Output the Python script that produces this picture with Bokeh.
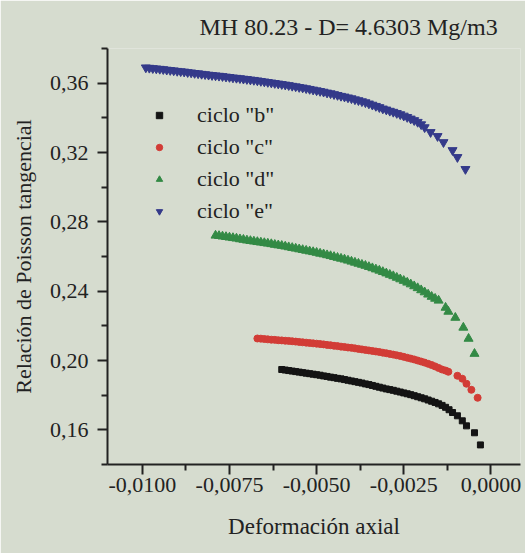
from bokeh.plotting import figure
from bokeh.models import (Range1d, FixedTicker, CustomJSTickFormatter, Legend,
                          LegendItem)
from bokeh.embed import file_html
from bokeh.resources import INLINE

TITLE = "MH 80.23 - D= 4.6303 Mg/m3"
X_LABEL = "Deformación axial"
Y_LABEL = "Relación de Poisson tangencial"
X_TICKS = [-0.0100, -0.0075, -0.0050, -0.0025, 0.0000]
X_MINOR = [-0.00875, -0.00625, -0.00375, -0.00125]
Y_TICKS = [0.16, 0.20, 0.24, 0.28, 0.32, 0.36]
Y_MINOR = [0.14, 0.18, 0.22, 0.26, 0.30, 0.34, 0.38]
SERIES_NAMES = ['ciclo "b"', 'ciclo "c"', 'ciclo "d"', 'ciclo "e"']

# ciclo "b" (black squares)
b_x = [-0.0060, -0.0059, -0.0058, -0.0057, -0.0056, -0.0055, -0.0054, -0.0053,
       -0.0052, -0.0051, -0.0050, -0.0049, -0.0048, -0.0047, -0.0046, -0.0045,
       -0.0044, -0.0043, -0.0042, -0.0041, -0.0040, -0.0039, -0.0038, -0.0037,
       -0.0036, -0.0035, -0.0034, -0.0033, -0.0032, -0.0031, -0.0030, -0.0029,
       -0.0028, -0.0027, -0.0026, -0.0025, -0.0024, -0.0023, -0.0022, -0.0021,
       -0.0020, -0.0019, -0.0018, -0.0017, -0.0016, -0.0015, -0.0014, -0.0013,
       -0.0012, -0.0011, -0.00096, -0.00082, -0.00070, -0.00047, -0.00030]
b_y = [0.1948, 0.1945, 0.1942, 0.1939, 0.1936, 0.1933, 0.1930, 0.1927,
       0.1924, 0.1921, 0.1918, 0.1915, 0.1911, 0.1908, 0.1904, 0.1901,
       0.1897, 0.1894, 0.1890, 0.1886, 0.1882, 0.1878, 0.1874, 0.1870,
       0.1865, 0.1861, 0.1856, 0.1851, 0.1846, 0.1841, 0.1836, 0.1832,
       0.1828, 0.1823, 0.1818, 0.1813, 0.1808, 0.1803, 0.1797, 0.1791,
       0.1785, 0.1779, 0.1772, 0.1765, 0.1758, 0.1750, 0.1741, 0.1730,
       0.1716, 0.1700, 0.1681, 0.1652, 0.1623, 0.1583, 0.1513]

# ciclo "c" (red circles)
c_x = [-0.0067, -0.0066, -0.0065, -0.0064, -0.0063, -0.0062, -0.0061, -0.0060,
       -0.0059, -0.0058, -0.0057, -0.0056, -0.0055, -0.0054, -0.0053, -0.0052,
       -0.0051, -0.0050, -0.0049, -0.0048, -0.0047, -0.0046, -0.0045, -0.0044,
       -0.0043, -0.0042, -0.0041, -0.0040, -0.0039, -0.0038, -0.0037, -0.0036,
       -0.0035, -0.0034, -0.0033, -0.0032, -0.0031, -0.0030, -0.0029, -0.0028,
       -0.0027, -0.0026, -0.0025, -0.0024, -0.0023, -0.0022, -0.0021, -0.0020,
       -0.0019, -0.0018, -0.0017, -0.0016, -0.0015, -0.0014, -0.0013,
       -0.00122, -0.00096, -0.00082, -0.00070, -0.00056, -0.00038]
c_y = [0.2127, 0.2126, 0.2124, 0.2122, 0.2120, 0.2119, 0.2117, 0.2116,
       0.2114, 0.2113, 0.2111, 0.2109, 0.2107, 0.2105, 0.2103, 0.2101,
       0.2099, 0.2097, 0.2095, 0.2093, 0.2090, 0.2088, 0.2085, 0.2083,
       0.2080, 0.2078, 0.2075, 0.2073, 0.2070, 0.2067, 0.2064, 0.2061,
       0.2058, 0.2055, 0.2052, 0.2049, 0.2045, 0.2042, 0.2038, 0.2034,
       0.2030, 0.2026, 0.2021, 0.2016, 0.2011, 0.2006, 0.2000, 0.1994,
       0.1988, 0.1981, 0.1974, 0.1966, 0.1957, 0.1948, 0.1942,
       0.1935, 0.1912, 0.1895, 0.1866, 0.1831, 0.1785]

# ciclo "d" (green triangles)
d_x = [-0.0079, -0.0078, -0.0077, -0.0076, -0.0075, -0.0074, -0.0073, -0.0072,
       -0.0071, -0.0070, -0.0069, -0.0068, -0.0067, -0.0066, -0.0065, -0.0064,
       -0.0063, -0.0062, -0.0061, -0.0060, -0.0059, -0.0058, -0.0057, -0.0056,
       -0.0055, -0.0054, -0.0053, -0.0052, -0.0051, -0.0050, -0.0049, -0.0048,
       -0.0047, -0.0046, -0.0045, -0.0044, -0.0043, -0.0042, -0.0041, -0.0040,
       -0.0039, -0.0038, -0.0037, -0.0036, -0.0035, -0.0034, -0.0033, -0.0032,
       -0.0031, -0.0030, -0.0029, -0.0028, -0.0027, -0.0026, -0.0025, -0.0024,
       -0.0023, -0.0022, -0.0021, -0.0020, -0.0019, -0.0018, -0.0017, -0.0016,
       -0.00150, -0.00130, -0.00122, -0.00102, -0.00079, -0.00064, -0.00047]
d_y = [0.2721, 0.2719, 0.2716, 0.2713, 0.2710, 0.2707, 0.2704, 0.2700,
       0.2697, 0.2693, 0.2690, 0.2687, 0.2684, 0.2681, 0.2678, 0.2675,
       0.2672, 0.2668, 0.2665, 0.2662, 0.2658, 0.2654, 0.2650, 0.2646,
       0.2642, 0.2638, 0.2634, 0.2630, 0.2626, 0.2622, 0.2617, 0.2613,
       0.2608, 0.2603, 0.2598, 0.2593, 0.2588, 0.2583, 0.2577, 0.2571,
       0.2565, 0.2559, 0.2553, 0.2547, 0.2540, 0.2533, 0.2526, 0.2519,
       0.2511, 0.2503, 0.2495, 0.2487, 0.2478, 0.2469, 0.2460, 0.2450,
       0.2440, 0.2429, 0.2418, 0.2406, 0.2394, 0.2381, 0.2368, 0.2357,
       0.2346, 0.2305, 0.2282, 0.2247, 0.2190, 0.2126, 0.2039]

# ciclo "e" (blue inverted triangles)
e_x = [-0.0099, -0.0098, -0.0097, -0.0096, -0.0095, -0.0094, -0.0093, -0.0092,
       -0.0091, -0.0090, -0.0089, -0.0088, -0.0087, -0.0086, -0.0085, -0.0084,
       -0.0083, -0.0082, -0.0081, -0.0080, -0.0079, -0.0078, -0.0077, -0.0076,
       -0.0075, -0.0074, -0.0073, -0.0072, -0.0071, -0.0070, -0.0069, -0.0068,
       -0.0067, -0.0066, -0.0065, -0.0064, -0.0063, -0.0062, -0.0061, -0.0060,
       -0.0059, -0.0058, -0.0057, -0.0056, -0.0055, -0.0054, -0.0053, -0.0052,
       -0.0051, -0.0050, -0.0049, -0.0048, -0.0047, -0.0046, -0.0045, -0.0044,
       -0.0043, -0.0042, -0.0041, -0.0040, -0.0039, -0.0038, -0.0037, -0.0036,
       -0.0035, -0.0034, -0.0033, -0.0032, -0.0031, -0.0030, -0.0029, -0.0028,
       -0.0027, -0.0026, -0.0025, -0.0024, -0.0023, -0.0022, -0.0021, -0.0020,
       -0.0019, -0.00173, -0.00153, -0.00136, -0.00110, -0.00096, -0.00073]
e_y = [0.3690, 0.3688, 0.3686, 0.3684, 0.3682, 0.3680, 0.3677, 0.3675,
       0.3673, 0.3670, 0.3668, 0.3666, 0.3663, 0.3661, 0.3658, 0.3656,
       0.3653, 0.3651, 0.3648, 0.3646, 0.3644, 0.3642, 0.3640, 0.3637,
       0.3635, 0.3632, 0.3630, 0.3628, 0.3625, 0.3623, 0.3620, 0.3618,
       0.3615, 0.3612, 0.3609, 0.3606, 0.3603, 0.3600, 0.3597, 0.3594,
       0.3591, 0.3588, 0.3584, 0.3581, 0.3577, 0.3574, 0.3570, 0.3566,
       0.3562, 0.3558, 0.3554, 0.3550, 0.3545, 0.3541, 0.3536, 0.3531,
       0.3526, 0.3522, 0.3517, 0.3512, 0.3506, 0.3501, 0.3495, 0.3489,
       0.3482, 0.3475, 0.3468, 0.3461, 0.3453, 0.3447, 0.3440, 0.3434,
       0.3427, 0.3420, 0.3412, 0.3404, 0.3395, 0.3386, 0.3376, 0.3362,
       0.3345, 0.3317, 0.3294, 0.3259, 0.3213, 0.3173, 0.3104]

BG = "#d6dccf"
FONT = "Liberation Serif"
INK = "#222222"

p = figure(width=525, height=553, output_backend="svg", toolbar_location=None,
           x_range=Range1d(-0.0110, 0.00085), y_range=Range1d(0.14, 0.38),
           min_border_left=107, min_border_right=5, min_border_top=48,
           min_border_bottom=89)
p.background_fill_color = BG
p.border_fill_color = BG
p.outline_line_color = None
p.xgrid.visible = False
p.ygrid.visible = False

p.title.text = TITLE
p.title.text_font = FONT
p.title.text_font_size = "24px"
p.title.text_font_style = "normal"
p.title.text_color = INK
p.title.align = "left"
p.title.offset = 92
p.title.standoff = 18

rb = p.scatter(b_x, b_y, marker="square", size=6, color="#141414")
rc = p.scatter(c_x, c_y, marker="circle", size=7, color="#d23c36")
rd = p.scatter(d_x, d_y, marker="triangle", size=9, color="#338a45")
re = p.scatter(e_x, e_y, marker="inverted_triangle", size=9, color="#343a8a")

for ax, ticks, minor, fmt in ((p.xaxis[0], X_TICKS, X_MINOR, 4),
                              (p.yaxis[0], Y_TICKS, Y_MINOR, 2)):
    ax.ticker = FixedTicker(ticks=ticks, minor_ticks=minor)
    ax.formatter = CustomJSTickFormatter(
        code="var t = Math.abs(tick) < 1e-12 ? 0 : tick; return t.toFixed(%d).replace('.', ',');" % fmt)
    ax.axis_line_width = 2
    ax.axis_line_color = INK
    ax.major_tick_line_color = INK
    ax.minor_tick_line_color = INK
    ax.major_tick_line_width = 2
    ax.minor_tick_line_width = 2
    ax.major_tick_in = 0
    ax.major_tick_out = 10
    ax.minor_tick_in = 0
    ax.minor_tick_out = 6
    ax.major_label_text_font = FONT
    ax.major_label_text_font_size = "22px"
    ax.major_label_text_color = INK
    ax.axis_label_text_font = FONT
    ax.axis_label_text_font_style = "normal"
    ax.axis_label_text_color = INK

p.xaxis.axis_label = X_LABEL
p.yaxis.axis_label = Y_LABEL
p.xaxis.axis_label_text_font_size = "23px"
p.yaxis.axis_label_text_font_size = "22px"
p.xaxis.major_label_standoff = 3
p.xaxis.axis_label_standoff = 19
p.yaxis.major_label_standoff = 9
p.yaxis.axis_label_standoff = 11

legend = Legend(items=[LegendItem(label=n, renderers=[r]) for n, r in
                       zip(SERIES_NAMES, [rb, rc, rd, re])],
                location=(44, 240), border_line_color=None,
                background_fill_alpha=0, label_text_font=FONT,
                label_text_font_size="22px", label_text_color=INK,
                glyph_width=16, glyph_height=16, label_height=16, spacing=6,
                padding=0, margin=0, label_standoff=30)
p.add_layout(legend)

open("out.html", "w").write(file_html(p, INLINE))
